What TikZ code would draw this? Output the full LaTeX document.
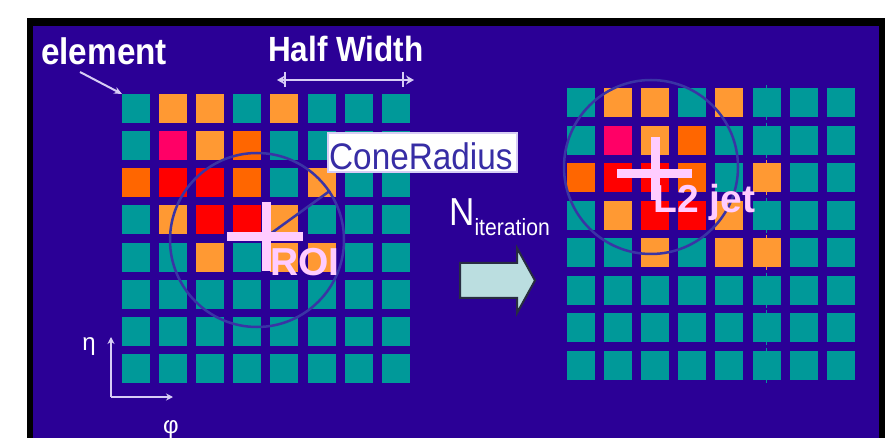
\documentclass[tikz,border=0pt]{standalone}
\usepackage{fontspec}
\setmainfont{Liberation Sans}
\newfontfamily\cond[FakeStretch=0.9]{Liberation Sans}
\usetikzlibrary{arrows.meta}
\definecolor{bgblue}{RGB}{43,0,150}
\definecolor{T}{RGB}{0,153,153}
\definecolor{O}{RGB}{255,153,51}
\definecolor{D}{RGB}{255,102,0}
\definecolor{R}{RGB}{255,0,0}
\definecolor{P}{RGB}{255,0,102}
\definecolor{crossc}{RGB}{255,204,255}
\definecolor{circc}{RGB}{58,52,165}
\definecolor{lav}{RGB}{215,205,245}
\definecolor{conetxt}{RGB}{55,45,165}
\definecolor{arrowfill}{RGB}{187,222,224}
\definecolor{arrowedge}{RGB}{40,45,65}
\begin{document}
\begin{tikzpicture}[x=1pt,y=-1pt,
  cell/.style={minimum width=28pt,minimum height=29pt,inner sep=0pt,outer sep=0pt,anchor=north west},
  ring/.style={draw=circc,line width=2.5pt,circle,minimum size=174pt,inner sep=0pt},
  crossbar/.style={crossc,line width=9pt},
  lbl/.style={inner sep=0pt,anchor=base west,text=white},
  pinklbl/.style={inner sep=0pt,anchor=base west,text=crossc,font=\bfseries\fontsize{39}{39}\selectfont},
  thinarrow/.style={lav,line width=2pt},
]
\useasboundingbox (0,0) rectangle (894,438);
\fill[white] (0,0) rectangle (894,438);
\fill[black] (27,18) rectangle (885,440);
\fill[bgblue] (33,26) rectangle (879,440);

% grids
\foreach \g/\gx/\gy/\py in {L/122/94/37.14, R/567/88/37.57}{
  \foreach \r/\list in {1/{T,O,O,T,O,T,T,T},2/{T,P,O,D,T,T,T,T},3/{D,R,R,D,T,O,T,T},
                        4/{T,O,R,R,O,T,T,T},5/{T,T,O,T,O,O,T,T},6/{T,T,T,T,T,T,T,T},
                        7/{T,T,T,T,T,T,T,T},8/{T,T,T,T,T,T,T,T}}{
    \foreach \c [count=\i] in \list {
      \node[cell,fill=\c] (\g-\r-\i) at ({\gx+(\i-1)*37.1},{\gy+(\r-1)*\py}) {};
    }
  }
}
% small ticks through column 6 of right grid
\foreach \r/\c in {1/T,2/T,3/O,4/T,5/O,6/T,7/T,8/T}{
  \draw[\c,line width=1.5pt] ([yshift=3pt]R-\r-6.north) -- ([yshift=-3pt]R-\r-6.south);
}

% circles
\node[ring] (Lcirc) at (257,240) {};
\node[ring] (Rcirc) at (651,167) {};
\coordinate (Lc) at (266,237);
\coordinate (Rc) at (655,174);
\draw[circc,line width=2.5pt] (Lc) -- (Lcirc.34);

% crosses
\draw[crossbar] ([xshift=-39pt]Lc) -- ([xshift=37pt]Lc);
\draw[crossbar] ([yshift=35pt]Lc) -- ([yshift=-34pt]Lc);
\draw[crossbar] ([xshift=-38pt]Rc) -- ([xshift=37pt]Rc);
\draw[crossbar] ([yshift=37pt]Rc) -- ([yshift=-26pt]Rc);

% labels
\node[lbl,font=\cond\bfseries\fontsize{37}{37}\selectfont] (element) at (41,65) {element};
\coordinate (ea) at (80,72);
\draw[thinarrow,-{Stealth[length=8pt,width=7pt]}] (ea) -- (L-1-1.north west);

\node[lbl,font=\cond\bfseries\fontsize{35}{35}\selectfont] (hw) at (268,62) {Half Width};
\coordinate (hw1) at (277,80);
\coordinate (hw2) at (414,80);
\draw[thinarrow,line width=2.5pt,{Stealth[length=8pt,width=9pt]}-{Stealth[length=8pt,width=9pt]}] (hw1) -- (hw2);
\draw[thinarrow] (285,72) -- (285,87);
\draw[thinarrow] (403,72) -- (403,87);

\draw[lav,line width=1.5pt,fill=white] (328,133) rectangle (517,172);
\node[inner sep=0pt,anchor=base west,text=conetxt,font=\cond\fontsize{37}{37}\selectfont] (cone) at (329,169.5) {ConeRadius};

\node[pinklbl] (roi) at (270,276) {ROI};
\node[pinklbl] (jet) at (653,213) {L2 jet};

\node[lbl,font=\cond\fontsize{39}{39}\selectfont] (niter) at (449,226) {N\raisebox{-10pt}{\fontsize{23.5}{24}\selectfont iteration}};

\draw[fill=arrowfill,draw=arrowedge,line width=2pt]
  (460,263) -- (517,263) -- (517,248) -- (535,280.5) -- (517,313) -- (517,298) -- (460,298) -- cycle;

% axes
\coordinate (ax0) at (111,397);
\coordinate (axup) at (111,337);
\coordinate (axrt) at (173,397);
\draw[thinarrow,-{Stealth[length=7pt,width=7pt]}] (ax0) -- (axup);
\draw[thinarrow,-{Stealth[length=7pt,width=7pt]}] (ax0) -- (axrt);
\node[text=white,inner sep=0pt,font=\fontsize{24}{24}\selectfont] (eta) at (89,347) {η};
\node[text=white,inner sep=0pt,font=\fontsize{24}{24}\selectfont] (phi) at (171,430) {φ};
\end{tikzpicture}
\end{document}
